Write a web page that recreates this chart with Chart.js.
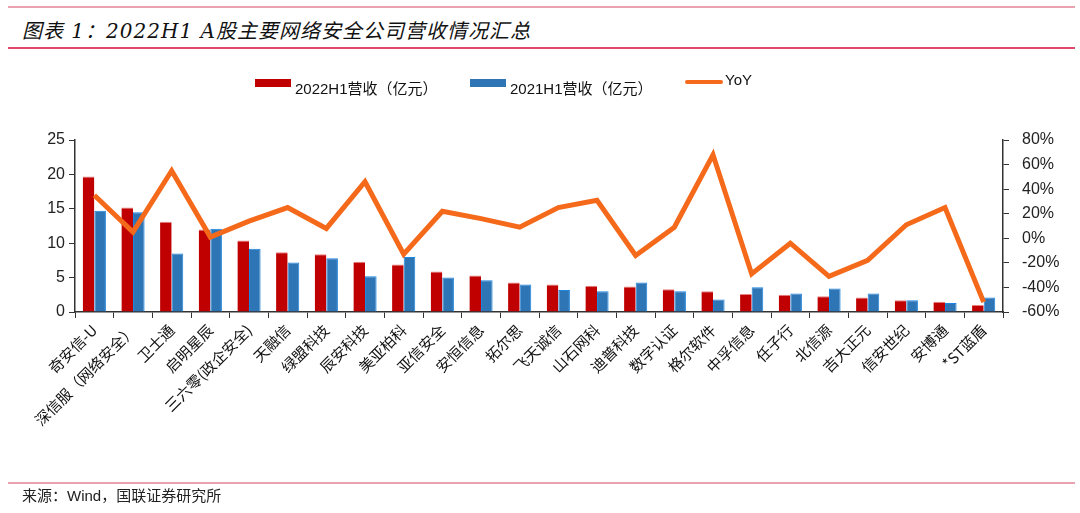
<!DOCTYPE html>
<html>
<head>
<meta charset="utf-8">
<script src="https://cdn.jsdelivr.net/npm/chart.js@4/dist/chart.umd.min.js"></script>
<style>
html,body{margin:0;padding:0;background:#fff;width:1080px;height:513px;overflow:hidden;}
#wrap{position:relative;width:1080px;height:513px;}
canvas{position:absolute;left:0;top:0;}
.line{position:absolute;left:8px;width:1067px;}
#title{position:absolute;left:22px;top:15px;font-family:"DejaVu Serif","Noto Sans CJK SC",serif;font-style:italic;font-weight:normal;font-size:20px;color:#111;white-space:nowrap;letter-spacing:1px;}
#src{position:absolute;left:22px;top:484px;font-family:"Noto Sans CJK SC","Liberation Sans",sans-serif;font-size:15px;color:#222;white-space:nowrap;}
</style>
</head>
<body>
<div id="wrap">
<div class="line" style="top:6px;height:2px;background:#E8A2B2;"></div>
<div id="title">图表 1：2022H1 A股主要网络安全公司营收情况汇总</div>
<div class="line" style="top:47px;height:2px;background:#E0476C;"></div>
<canvas id="c" width="1080" height="513"></canvas>
<div class="line" style="top:482px;height:2px;background:#E8A2B2;"></div>
<div id="src">来源：<span style="font-family:'Liberation Sans',sans-serif;">Wind</span>，国联证券研究所</div>
</div>
<script>
const categories = ["奇安信-U","深信服（网络安全）","卫士通","启明星辰","三六零(政企安全)","天融信","绿盟科技","辰安科技","美亚柏科","亚信安全","安恒信息","拓尔思","飞天诚信","山石网科","迪普科技","数字认证","格尔软件","中孚信息","任子行","北信源","吉大正元","信安世纪","安博通","*ST蓝盾"];
const rev2022 = [19.7,15.2,13.1,12.0,10.4,8.7,8.4,7.3,6.9,5.9,5.3,4.3,4.0,3.8,3.7,3.3,3.0,2.6,2.5,2.3,2.1,1.7,1.5,1.0];
const rev2021 = [14.7,14.5,8.5,12.1,9.2,7.2,7.8,5.2,8.0,5.0,4.6,4.0,3.2,3.0,4.3,3.0,1.8,3.6,2.7,3.4,2.7,1.7,1.3,2.1];
const yoy = [35,5,55,1,14,25,8,46,-13,22,16,9,25,31,-14,9,68,-29,-4,-31,-18,11,25,-52];
const leftTicks = [0,5,10,15,20,25];
const rightTicks = [-60,-40,-20,0,20,40,60,80];

const axisColor = '#333';
const tickFont = {family:"'Liberation Sans', Arial, sans-serif", size:16};

const legendPlugin = {
  id:'customLegend',
  afterDraw(chart){
    const ctx = chart.ctx;
    const ds = chart.data.datasets;
    const items = [
      {x:255, ds:ds[0], type:'box'},
      {x:470, ds:ds[1], type:'box'},
      {x:685, ds:ds[2], type:'line'}
    ];
    ctx.save();
    ctx.textBaseline='middle';
    items.forEach(it=>{
      ctx.fillStyle='#111';
      ctx.font = "15px 'Liberation Sans','Noto Sans CJK SC',sans-serif";
      if(it.type==='box'){
        ctx.fillStyle = it.ds.backgroundColor;
        ctx.fillRect(it.x, 79, 36, 8);
        ctx.fillStyle='#111';
        ctx.fillText(it.ds.label, it.x+40, 90);
      } else {
        ctx.strokeStyle = it.ds.borderColor;
        ctx.lineWidth = 4;
        ctx.lineCap='round';
        ctx.beginPath(); ctx.moveTo(it.x+2, 82); ctx.lineTo(it.x+36, 82); ctx.stroke();
        ctx.fillText(it.ds.label, it.x+40, 81);
      }
    });
    ctx.restore();
  }
};

new Chart(document.getElementById('c'), {
  data:{
    labels: categories,
    datasets:[
      {type:'bar', label:'2022H1营收（亿元）', data:rev2022, backgroundColor:'#C00000', borderColor:'#E88080', borderWidth:{top:1,left:0,right:0,bottom:0}, yAxisID:'y', order:2, categoryPercentage:0.6, barPercentage:1.0},
      {type:'bar', label:'2021H1营收（亿元）', data:rev2021, backgroundColor:'#2E75B6', borderColor:'#1C86E0', borderWidth:1, yAxisID:'y', order:2, categoryPercentage:0.6, barPercentage:1.0},
      {type:'line', label:'YoY', data:yoy, borderColor:'#F5691A', backgroundColor:'#F5691A', borderWidth:5, pointRadius:0, tension:0, yAxisID:'y1', order:0, borderJoinStyle:'miter'}
    ]
  },
  options:{
    responsive:false,
    animation:false,
    devicePixelRatio:1,
    layout:{padding:{top:140,bottom:0,left:0,right:0}},
    plugins:{legend:{display:false}, tooltip:{enabled:false}, title:{display:false}},
    scales:{
      x:{
        offset:true,
        grid:{display:true, drawOnChartArea:false, drawTicks:true, tickLength:6, color:axisColor, offset:true},
        border:{display:true, color:axisColor, width:1.5},
        ticks:{minRotation:45, maxRotation:45, autoSkip:false, color:'#111', font:{family:"'Noto Sans CJK SC', sans-serif", size:15}, padding:3},
        afterFit(s){ s.height = 201; }
      },
      y:{
        position:'left', min:0, max:25,
        afterBuildTicks(s){ s.ticks = leftTicks.map(v=>({value:v})); },
        grid:{display:true, drawOnChartArea:false, drawTicks:true, tickLength:6, color:axisColor},
        border:{display:true, color:axisColor, width:1.5},
        ticks:{color:'#222', font:tickFont, padding:4},
        afterFit(s){ s.width = 75; }
      },
      y1:{
        position:'right', min:-60, max:80,
        afterBuildTicks(s){ s.ticks = rightTicks.map(v=>({value:v})); },
        grid:{display:true, drawOnChartArea:false, drawTicks:true, tickLength:6, color:axisColor},
        border:{display:true, color:axisColor, width:1.5},
        ticks:{color:'#222', font:tickFont, padding:13, callback:v=>v+'%'},
        afterFit(s){ s.width = 77; }
      }
    }
  },
  plugins:[legendPlugin]
});
</script>
</body>
</html>
